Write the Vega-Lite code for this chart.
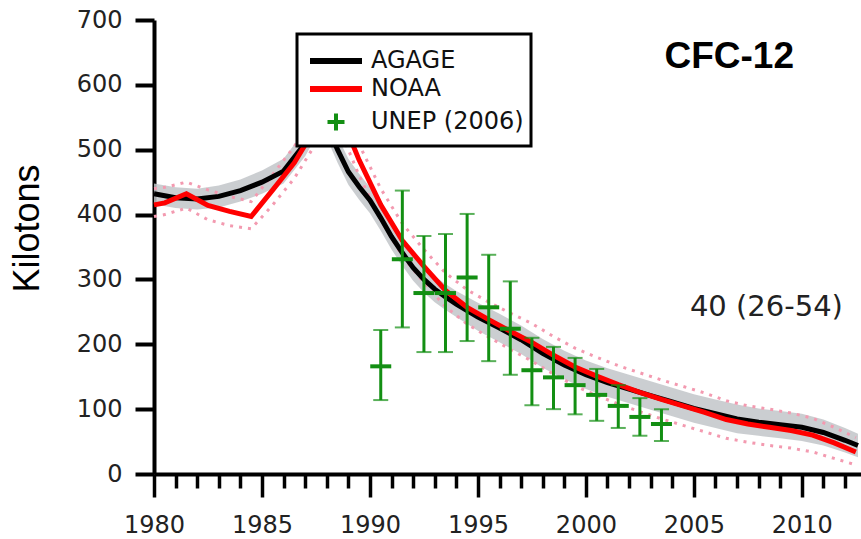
{
  "$schema": "https://vega.github.io/schema/vega-lite/v6.json",
  "autosize": "none",
  "width": 707,
  "height": 454,
  "padding": {"left": 154, "top": 20, "right": 0, "bottom": 65},
  "background": "white",
  "config": {"view": {"stroke": null}, "font": "DejaVu Sans"},
  "datasets": {
    "lines": [
      {"s": "AGAGE", "year": 1980, "v": 432, "lo": 416, "hi": 448},
      {"s": "AGAGE", "year": 1981, "v": 426, "lo": 410, "hi": 442},
      {"s": "AGAGE", "year": 1982, "v": 424, "lo": 408, "hi": 440},
      {"s": "AGAGE", "year": 1983, "v": 428, "lo": 411, "hi": 445},
      {"s": "AGAGE", "year": 1984, "v": 437, "lo": 420, "hi": 454},
      {"s": "AGAGE", "year": 1985, "v": 450, "lo": 432, "hi": 468},
      {"s": "AGAGE", "year": 1986, "v": 467, "lo": 448, "hi": 486},
      {"s": "AGAGE", "year": 1987, "v": 510, "lo": 490, "hi": 530},
      {"s": "AGAGE", "year": 1987.5, "v": 540, "lo": 520, "hi": 560},
      {"s": "AGAGE", "year": 1988, "v": 538, "lo": 518, "hi": 558},
      {"s": "AGAGE", "year": 1988.5, "v": 500, "lo": 480, "hi": 520},
      {"s": "AGAGE", "year": 1989, "v": 466, "lo": 446, "hi": 486},
      {"s": "AGAGE", "year": 1989.5, "v": 443, "lo": 423, "hi": 463},
      {"s": "AGAGE", "year": 1990, "v": 422, "lo": 402, "hi": 442},
      {"s": "AGAGE", "year": 1990.5, "v": 395, "lo": 375, "hi": 415},
      {"s": "AGAGE", "year": 1991, "v": 366, "lo": 346, "hi": 386},
      {"s": "AGAGE", "year": 1991.5, "v": 341, "lo": 321, "hi": 361},
      {"s": "AGAGE", "year": 1992, "v": 318, "lo": 298, "hi": 338},
      {"s": "AGAGE", "year": 1992.5, "v": 300, "lo": 280, "hi": 320},
      {"s": "AGAGE", "year": 1993, "v": 285, "lo": 265, "hi": 305},
      {"s": "AGAGE", "year": 1993.5, "v": 273, "lo": 253, "hi": 293},
      {"s": "AGAGE", "year": 1994, "v": 262, "lo": 242, "hi": 282},
      {"s": "AGAGE", "year": 1995, "v": 242, "lo": 221, "hi": 264},
      {"s": "AGAGE", "year": 1996, "v": 225, "lo": 203, "hi": 247},
      {"s": "AGAGE", "year": 1997, "v": 207, "lo": 185, "hi": 229},
      {"s": "AGAGE", "year": 1998, "v": 186, "lo": 164, "hi": 208},
      {"s": "AGAGE", "year": 1999, "v": 168, "lo": 146, "hi": 190},
      {"s": "AGAGE", "year": 2000, "v": 153, "lo": 131, "hi": 175},
      {"s": "AGAGE", "year": 2001, "v": 141, "lo": 119, "hi": 163},
      {"s": "AGAGE", "year": 2002, "v": 131, "lo": 109, "hi": 153},
      {"s": "AGAGE", "year": 2003, "v": 121, "lo": 99, "hi": 143},
      {"s": "AGAGE", "year": 2004, "v": 111, "lo": 89, "hi": 133},
      {"s": "AGAGE", "year": 2005, "v": 101, "lo": 79, "hi": 123},
      {"s": "AGAGE", "year": 2006, "v": 93, "lo": 71, "hi": 115},
      {"s": "AGAGE", "year": 2007, "v": 85, "lo": 63, "hi": 107},
      {"s": "AGAGE", "year": 2008, "v": 80, "lo": 59, "hi": 101},
      {"s": "AGAGE", "year": 2009, "v": 76, "lo": 55, "hi": 97},
      {"s": "AGAGE", "year": 2010, "v": 72, "lo": 51, "hi": 93},
      {"s": "AGAGE", "year": 2011, "v": 64, "lo": 44, "hi": 84},
      {"s": "AGAGE", "year": 2012, "v": 52, "lo": 33, "hi": 71},
      {"s": "AGAGE", "year": 2012.6, "v": 44, "lo": 26, "hi": 62},
      {"s": "NOAA", "year": 1980, "v": 415, "lo": 397, "hi": 440},
      {"s": "NOAA", "year": 1980.5, "v": 418, "lo": 400, "hi": 442},
      {"s": "NOAA", "year": 1981.5, "v": 432, "lo": 410, "hi": 450},
      {"s": "NOAA", "year": 1982.5, "v": 414, "lo": 392, "hi": 438},
      {"s": "NOAA", "year": 1983.5, "v": 405, "lo": 383, "hi": 428},
      {"s": "NOAA", "year": 1984.5, "v": 397, "lo": 378, "hi": 420},
      {"s": "NOAA", "year": 1985.5, "v": 438, "lo": 415, "hi": 462},
      {"s": "NOAA", "year": 1986.5, "v": 480, "lo": 456, "hi": 505},
      {"s": "NOAA", "year": 1987.5, "v": 535, "lo": 510, "hi": 560},
      {"s": "NOAA", "year": 1988.5, "v": 565, "lo": 540, "hi": 590},
      {"s": "NOAA", "year": 1989.5, "v": 484, "lo": 460, "hi": 508},
      {"s": "NOAA", "year": 1990.5, "v": 415, "lo": 392, "hi": 440},
      {"s": "NOAA", "year": 1991.5, "v": 360, "lo": 336, "hi": 386},
      {"s": "NOAA", "year": 1992.5, "v": 320, "lo": 295, "hi": 346},
      {"s": "NOAA", "year": 1993.5, "v": 283, "lo": 258, "hi": 310},
      {"s": "NOAA", "year": 1994.5, "v": 257, "lo": 231, "hi": 284},
      {"s": "NOAA", "year": 1995.5, "v": 238, "lo": 211, "hi": 265},
      {"s": "NOAA", "year": 1996.5, "v": 220, "lo": 192, "hi": 248},
      {"s": "NOAA", "year": 1997.5, "v": 203, "lo": 174, "hi": 232},
      {"s": "NOAA", "year": 1998.5, "v": 183, "lo": 154, "hi": 212},
      {"s": "NOAA", "year": 1999.5, "v": 165, "lo": 136, "hi": 194},
      {"s": "NOAA", "year": 2000.5, "v": 151, "lo": 121, "hi": 180},
      {"s": "NOAA", "year": 2001.5, "v": 138, "lo": 108, "hi": 167},
      {"s": "NOAA", "year": 2002.5, "v": 126, "lo": 96, "hi": 156},
      {"s": "NOAA", "year": 2003.5, "v": 115, "lo": 85, "hi": 145},
      {"s": "NOAA", "year": 2004.5, "v": 105, "lo": 75, "hi": 135},
      {"s": "NOAA", "year": 2005.5, "v": 95, "lo": 65, "hi": 125},
      {"s": "NOAA", "year": 2006.5, "v": 84, "lo": 55, "hi": 113},
      {"s": "NOAA", "year": 2007.5, "v": 77, "lo": 49, "hi": 105},
      {"s": "NOAA", "year": 2008.5, "v": 72, "lo": 44, "hi": 100},
      {"s": "NOAA", "year": 2009.5, "v": 67, "lo": 40, "hi": 94},
      {"s": "NOAA", "year": 2010.5, "v": 60, "lo": 34, "hi": 86},
      {"s": "NOAA", "year": 2011.5, "v": 48, "lo": 24, "hi": 72},
      {"s": "NOAA", "year": 2012.5, "v": 34, "lo": 14, "hi": 56}
    ],
    "unep": [
      {"s": "UNEP (2006)", "year": 1990.5, "v": 166, "lo": 114, "hi": 222},
      {"s": "UNEP (2006)", "year": 1991.5, "v": 331, "lo": 226, "hi": 437},
      {"s": "UNEP (2006)", "year": 1992.5, "v": 279, "lo": 188, "hi": 367},
      {"s": "UNEP (2006)", "year": 1993.5, "v": 279, "lo": 188, "hi": 370},
      {"s": "UNEP (2006)", "year": 1994.5, "v": 303, "lo": 205, "hi": 401},
      {"s": "UNEP (2006)", "year": 1995.5, "v": 257, "lo": 174, "hi": 338},
      {"s": "UNEP (2006)", "year": 1996.5, "v": 224, "lo": 153, "hi": 297},
      {"s": "UNEP (2006)", "year": 1997.5, "v": 160, "lo": 106, "hi": 210},
      {"s": "UNEP (2006)", "year": 1998.5, "v": 149, "lo": 100, "hi": 196},
      {"s": "UNEP (2006)", "year": 1999.5, "v": 137, "lo": 92, "hi": 179},
      {"s": "UNEP (2006)", "year": 2000.5, "v": 122, "lo": 82, "hi": 162},
      {"s": "UNEP (2006)", "year": 2001.5, "v": 105, "lo": 71, "hi": 137},
      {"s": "UNEP (2006)", "year": 2002.5, "v": 88, "lo": 59, "hi": 117},
      {"s": "UNEP (2006)", "year": 2003.5, "v": 77, "lo": 51, "hi": 100}
    ]
  },
  "encoding": {
    "x": {
      "field": "year", "type": "quantitative",
      "scale": {"domain": [1980, 2012.74], "nice": false, "zero": false},
      "axis": {
        "title": null, "grid": false,
        "values": [1980,1981,1982,1983,1984,1985,1986,1987,1988,1989,1990,1991,1992,1993,1994,1995,1996,1997,1998,1999,2000,2001,2002,2003,2004,2005,2006,2007,2008,2009,2010,2011,2012],
        "format": "d",
        "labelExpr": "datum.value % 5 === 0 ? datum.label : ''",
        "labelOverlap": false, "labelFlush": false,
        "tickSize": {"condition": {"test": "datum.value % 5 !== 0", "value": 14}, "value": 23},
        "tickWidth": 3.5, "tickColor": "black",
        "domainColor": "black", "domainWidth": 4,
        "labelFont": "DejaVu Sans", "labelFontSize": 24, "labelColor": "#222",
        "labelPadding": 16
      }
    },
    "y": {
      "field": "v", "type": "quantitative",
      "scale": {"domain": [0, 700], "nice": false},
      "axis": {
        "title": "Kilotons", "grid": false,
        "values": [0,100,200,300,400,500,600,700],
        "tickSize": 19, "tickWidth": 4, "tickColor": "black",
        "domainColor": "black", "domainWidth": 4,
        "labelFont": "DejaVu Sans", "labelFontSize": 24, "labelColor": "#222",
        "labelPadding": 13,
        "titleFont": "Liberation Sans", "titleFontSize": 36, "titleFontWeight": "normal",
        "titleColor": "black", "titlePadding": 30, "titleY": 208
      }
    }
  },
  "layer": [
    {
      "data": {"name": "lines"},
      "transform": [{"filter": "datum.s === 'AGAGE'"}],
      "mark": {"type": "area", "color": "#c2c5c9", "opacity": 0.85},
      "encoding": {"y": {"field": "lo", "type": "quantitative"}, "y2": {"field": "hi"}}
    },
    {
      "data": {"name": "lines"},
      "transform": [{"filter": "datum.s === 'NOAA'"}],
      "mark": {"type": "line", "color": "#f39ab0", "strokeWidth": 3, "strokeDash": [3, 6]},
      "encoding": {"y": {"field": "lo", "type": "quantitative"}}
    },
    {
      "data": {"name": "lines"},
      "transform": [{"filter": "datum.s === 'NOAA'"}],
      "mark": {"type": "line", "color": "#f39ab0", "strokeWidth": 3, "strokeDash": [3, 6]},
      "encoding": {"y": {"field": "hi", "type": "quantitative"}}
    },
    {
      "data": {"name": "lines"},
      "transform": [{"filter": "datum.s === 'AGAGE'"}],
      "mark": {"type": "line", "strokeWidth": 5},
      "encoding": {
        "color": {
          "field": "s", "type": "nominal",
          "scale": {"domain": ["AGAGE", "NOAA", "UNEP (2006)"], "range": ["#000000", "#ff0000", "#138f13"]},
          "legend": {
            "title": " ", "titleFontSize": 2, "titlePadding": 6,
            "orient": "none", "legendX": 143, "legendY": 14,
            "fillColor": "white", "strokeColor": "black", "padding": 7,
            "symbolSize": 400, "symbolOffset": 20, "labelOffset": 23,
            "rowPadding": 4, "labelFont": "DejaVu Sans", "labelFontSize": 24,
            "labelColor": "#111", "labelLimit": 0,
            "encode": {
              "legend": {"update": {"strokeWidth": {"value": 3}}},
              "symbols": {"update": {
                "shape": {"signal": "datum.value === 'UNEP (2006)' ? 'M-0.85,0H0.85M0,-0.85V0.85' : 'M-2.6,0H2.6'"},
                "stroke": {"signal": "scale('color', datum.value)"},
                "fill": {"value": "transparent"},
                "strokeWidth": {"signal": "datum.value === 'UNEP (2006)' ? 4 : 6"},
                "size": {"value": 400},
                "opacity": {"value": 1}
              }}
            }
          }
        }
      }
    },
    {
      "data": {"name": "lines"},
      "transform": [{"filter": "datum.s === 'NOAA'"}],
      "mark": {"type": "line", "strokeWidth": 5},
      "encoding": {
        "color": {"field": "s", "type": "nominal",
          "scale": {"domain": ["AGAGE", "NOAA", "UNEP (2006)"], "range": ["#000000", "#ff0000", "#138f13"]}}
      }
    },
    {
      "data": {"name": "unep"},
      "mark": {"type": "rule", "color": "#138f13", "strokeWidth": 3},
      "encoding": {"y": {"field": "lo", "type": "quantitative"}, "y2": {"field": "hi"}}
    },
    {
      "data": {"name": "unep"},
      "mark": {"type": "tick", "orient": "horizontal", "color": "#138f13", "size": 15, "thickness": 2},
      "encoding": {"y": {"field": "lo", "type": "quantitative"}}
    },
    {
      "data": {"name": "unep"},
      "mark": {"type": "tick", "orient": "horizontal", "color": "#138f13", "size": 15, "thickness": 2},
      "encoding": {"y": {"field": "hi", "type": "quantitative"}}
    },
    {
      "data": {"name": "unep"},
      "mark": {"type": "tick", "orient": "horizontal", "size": 21, "thickness": 4, "opacity": 1},
      "encoding": {
        "color": {"field": "s", "type": "nominal",
          "scale": {"domain": ["AGAGE", "NOAA", "UNEP (2006)"], "range": ["#000000", "#ff0000", "#138f13"]}}
      }
    },
    {
      "data": {"values": [{"year": 2006.64, "v": 643, "t": "CFC-12"}]},
      "mark": {"type": "text", "font": "Liberation Sans", "fontSize": 37, "fontWeight": "bold", "color": "black", "align": "center", "baseline": "middle"},
      "encoding": {"text": {"field": "t"}}
    },
    {
      "data": {"values": [{"year": 2008.36, "v": 257, "t": "40 (26-54)"}]},
      "mark": {"type": "text", "font": "DejaVu Sans", "fontSize": 29, "color": "#222", "align": "center", "baseline": "middle"},
      "encoding": {"text": {"field": "t"}}
    },
    {
      "mark": {"type": "rule", "color": "black", "strokeWidth": 4},
      "encoding": {"y": {"datum": 700}}
    }
  ]
}
